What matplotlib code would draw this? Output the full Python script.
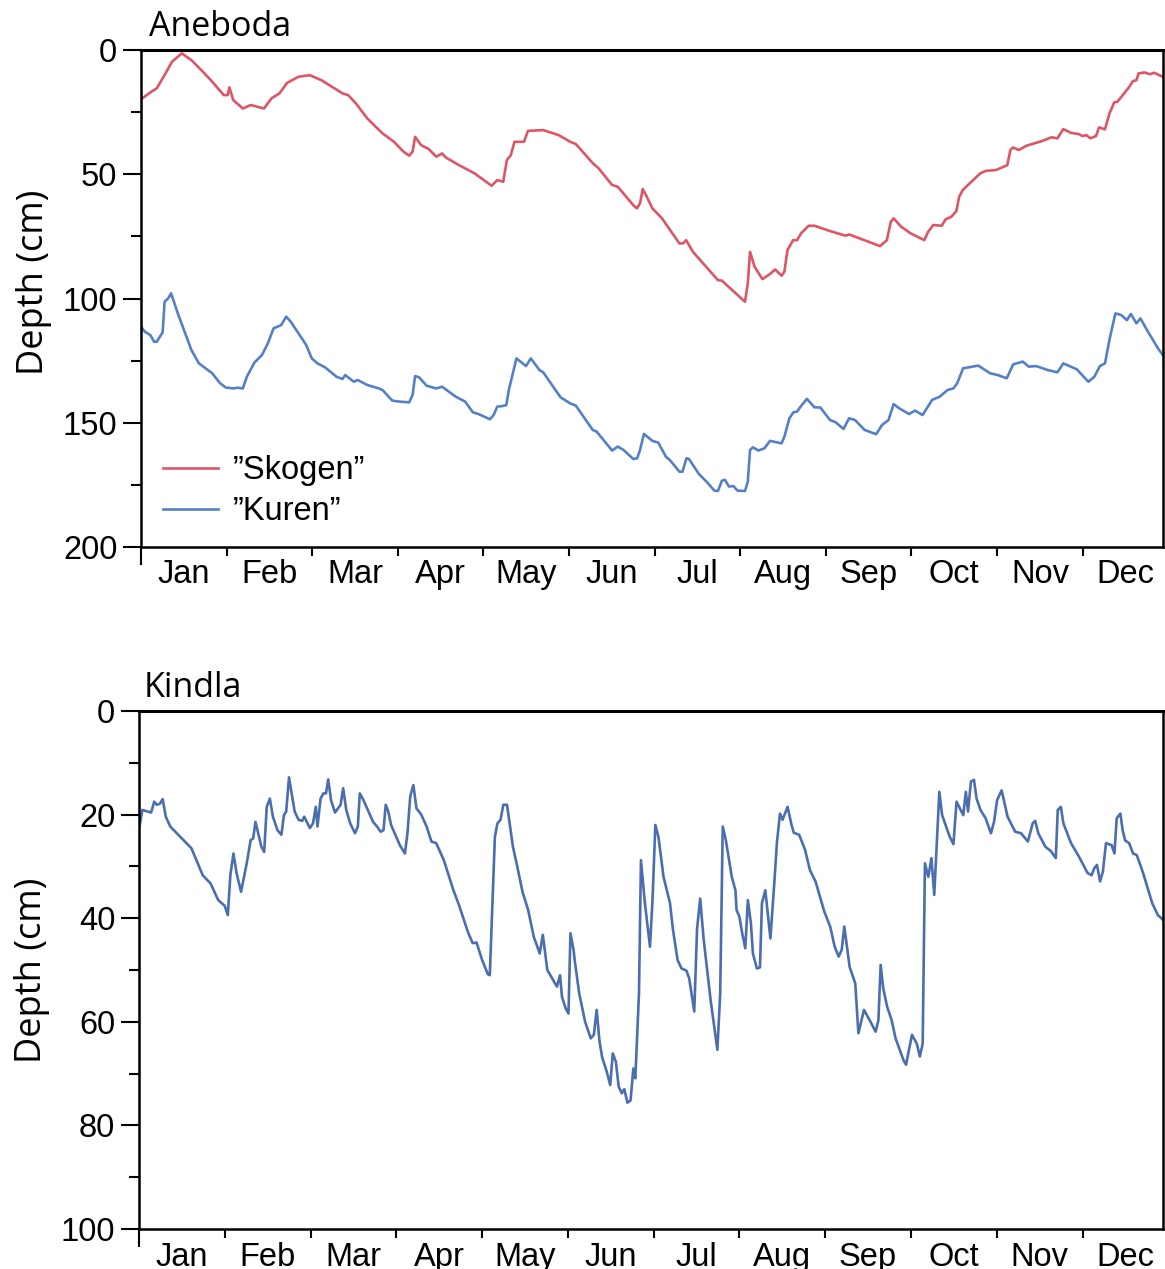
import matplotlib
matplotlib.use("Agg")
import matplotlib.pyplot as plt
from matplotlib.ticker import FixedLocator, NullFormatter, MultipleLocator

plt.rcParams['font.family'] = ['Liberation Sans', 'DejaVu Sans']

months = ["Jan", "Feb", "Mar", "Apr", "May", "Jun",
          "Jul", "Aug", "Sep", "Oct", "Nov", "Dec"]

# Aneboda "Skogen" (day of year, depth in cm)
skogen_day = [0, 3.6, 5.6, 8.4, 11, 14.5, 17.9, 22, 25.3, 29.4, 30.8, 31.4, 32.8, 36.2, 39,
              43.7, 46.4, 49.2, 51.9, 56, 60, 64.1, 68.2, 71.6, 73.6, 76.4, 80.4, 85.8, 89.9,
              93.3, 95.3, 96.5, 97.4, 99.5, 102.2, 104.9, 107, 108.3, 113, 118.5, 124.6, 126.6,
              128.7, 130, 131.4, 132.7, 136.1, 137.5, 142.9, 148.4, 152.5, 154.5, 160.6, 162.6,
              167.4, 169.4, 174.9, 176.2, 177.3, 178.3, 179.7, 181.7, 185.1, 191.3, 192.6, 193.7,
              196.1, 205, 206.4, 214.6, 215.6, 216.4, 218, 220.8, 223.5, 225.3, 227.6, 228.6,
              229.7, 231.7, 233.1, 234.5, 237.2, 239.3, 244.7, 250.3, 251.6, 262.6, 265, 266.4,
              267.4, 270.1, 273.5, 278.3, 279.7, 281.5, 284.5, 285.9, 287.9, 289.7, 290.7, 292,
              294.1, 298.2, 300.2, 303.7, 307.8, 308.9, 309.8, 311.9, 314.6, 320.1, 323.5, 325.6,
              327.7, 330.4, 333.2, 334.5, 335.9, 337.3, 339.3, 340.4, 342.5, 344.1, 345.8, 346.9,
              351, 352.4, 353.7, 354.4, 356.5, 358.5, 359.9, 363]
skogen_depth = [19.8, 16.8, 15.4, 10, 4.7, 1.3, 4, 8.7, 12.7, 18.1, 18.1, 15, 20.1, 23.5, 22.1,
                23.5, 19.4, 17.4, 13.2, 10.7, 10.1, 12.1, 15, 17.4, 18.1, 21.5, 27.5, 33.5, 36.9,
                40.9, 42.5, 40.9, 34.9, 38.2, 39.8, 42.9, 41.6, 43.2, 46.3, 49.6, 54.6, 52.3,
                53, 44.3, 42.3, 36.9, 36.9, 32.5, 32.2, 34.2, 36.9, 37.8, 45.6, 47.6,
                54.3, 55, 62.4, 63.7, 61.7, 55.9, 59, 63.7, 67.7, 77.8, 77.8, 76.5,
                81.2, 92.6, 92.8, 101.3, 93.9, 81.2, 87.2, 92.2, 90.1, 88.3, 90.8, 89.2,
                80.5, 76.5, 76.5, 73.8, 70.7, 70.7, 72.8, 74.7, 74.2, 78.9, 76.5, 69.1,
                67.7, 71.1, 73.8, 76.5, 73.1, 70.4, 70.7, 68.1, 67.1, 64.8, 59, 56.3,
                54, 49.6, 48.6, 48.3, 46.3, 40.2, 39.2, 40.2, 38.5, 36.6, 35.1, 35.5,
                31.8, 33.3, 33.8, 34.6, 34.2, 35.5, 34.6, 31.1, 31.9, 25.5, 21, 20.8,
                15, 12.5, 12.1, 9.4, 9, 9.7, 9.1, 10.7]

# Aneboda "Kuren"
kuren_day = [0, 1.3, 3.3, 4.7, 5.6, 7.7, 8.4, 9.7, 10.7, 13.1, 17.9, 20.6, 25.3, 28.1, 30.1,
             32.8, 34.2, 36.2, 37.6, 40.3, 43, 45.1, 47.1, 49.8, 51.6, 53.2, 58.7, 60.7, 62.7,
             65.4, 69.5, 71.6, 72.6, 75.6, 77, 80.4, 84.5, 85.8, 89.3, 91.9, 95.3, 96.5, 97.4,
             98.8, 101.5, 104.9, 107, 111.8, 115.2, 117.9, 119.9, 124, 125.3, 126.6, 128.3,
             129.8, 130.7, 133.4, 136.8, 138.5, 141.6, 142.9, 149.1, 152.5, 154.5, 160.5,
             161.9, 167.4, 169.4, 171.5, 174.9, 176.3, 177.3, 178.7, 181.7, 183.8, 186.5,
             187.9, 191.3, 192.4, 193.8, 194.7, 198.2, 200.9, 203.7, 205, 206.4, 207.5, 208.9,
             210.5, 211.9, 214.6, 215.6, 216.4, 217.4, 219.4, 221.5, 223.5, 227.6, 228.6,
             230.4, 231.8, 233.1, 234.5, 236.6, 239.3, 241.4, 244.8, 246.8, 249.6, 251.6,
             253.7, 257.1, 261.2, 263.3, 265.6, 267.4, 269.4, 272.9, 275, 277.7, 281.1, 283.8,
             286.6, 288.6, 290, 292.1, 297.5, 301.7, 304.4, 307.6, 309.9, 313.3, 315.4, 318.1,
             322.2, 325.6, 327.7, 332.5, 336.6, 338.7, 340.7, 342.5, 344.2, 346.2, 348.2,
             350.3, 351.7, 353.7, 355.1, 357.8, 361.3, 363]
kuren_depth = [111.3, 113.3, 114.7, 117.4, 117.4, 113.6, 101.3, 99.9, 97.9, 106, 120.7, 126.1,
               130.1, 134.1, 135.8, 136.2, 135.9, 136.2, 131.5, 125.8, 122.7, 118, 112, 110.7,
               107.3, 109.3, 118.7, 124.1, 126.1, 127.7, 131.5, 132.4, 130.8, 133.5, 132.8,
               134.8, 136.2, 136.8, 141.1, 141.5, 141.8, 138.8, 131.2, 131.7, 135.1, 136.2,
               135.5, 139.5, 141.5, 145.8, 146.5, 148.6, 146.9, 143.5, 143.3, 142.9, 136.8,
               124.1, 127.2, 124.1, 128.8, 129.7, 139.8, 142.2, 143.1, 152.9, 153.6, 161.2,
               159.6, 161, 164.6, 164.3, 161, 154.5, 157.3, 158, 163.7, 165, 169.7, 169.7,
               164.3, 164.6, 170.6, 173.7, 177.3, 177.5, 173.3, 173, 175.7, 175.5, 177.3,
               177.5, 173.7, 161, 159.9, 161.2, 160.3, 157.3, 158.3, 155.6, 148.2, 145.8,
               145.5, 143.3, 140.4, 143.8, 143.9, 148.9, 149.8, 152.5, 148.2, 148.9, 152.9,
               154.6, 150.9, 148.9, 142.5, 144.2, 146.5, 145.1, 146.9, 140.8, 139.5, 136.8,
               136.2, 134.1, 128.1, 127, 130.1, 130.8, 132.1, 126.5, 125.4, 127.4, 127.2,
               128.8, 129.7, 126.1, 128.5, 133.5, 131.5, 127.2, 126.1, 116, 106, 106.6, 108.7,
               106.2, 110, 108, 113.4, 120, 122.7]

# Kindla
kindla_day = [0.2, 1.2, 4.3, 5.4, 6.3, 7.4, 8.4, 9.5, 11.1, 18.6, 22.6, 25.4, 28.1, 30.4, 31.5,
              32.4, 33.5, 34.6, 36.2, 38.2, 39.6, 40.5, 41.3, 43.4, 44.4, 45.3, 46.4, 47.5, 49.1,
              50.5, 51.4, 52.2, 53.2, 55.2, 56.6, 57.9, 58.6, 60.6, 61.7, 62.7, 63.3, 64.4, 65.4,
              66.3, 67.1, 68.1, 69.5, 71.5, 72.4, 73.5, 74.9, 76.6, 77.6, 78.3, 79.6, 83, 84.4,
              85.7, 86.7, 87.5, 88.4, 89.4, 92.5, 94.3, 95.2, 96.2, 97.3, 98.4, 100, 102, 103.7,
              105.4, 108.1, 111.5, 113.5, 116.6, 118.3, 119.7, 121.7, 123.7, 124.4, 126.2, 127.1,
              128.2, 129.2, 130.5, 132.6, 133.9, 136, 138, 140, 142.1, 143.2, 144.8, 148.2, 149.3,
              150, 151.3, 152.3, 153, 154.1, 154.5, 156.1, 158.2, 160.2, 161.3, 162.3, 163.3,
              164.3, 165.7, 167.1, 168, 169.1, 170.1, 171.2, 172.1, 173.2, 174.3, 175.3, 176,
              177.3, 178, 179.4, 181.2, 182.1, 183.1, 184.2, 186, 188.3, 189.3, 191, 192.4, 194.1,
              195.1, 196.9, 197.9, 199, 200.2, 202.7, 205.1, 206.1, 207, 208.1, 210.2, 211.5,
              211.9, 212.9, 213.9, 215, 215.9, 217, 217.7, 219.1, 220.2, 220.9, 222.1, 223.9,
              225.2, 226.2, 227.3, 228.2, 230, 231.4, 232.2, 234.1, 236.2, 237.9, 239.9, 243,
              245.1, 246.7, 248.1, 249.2, 250.1, 252, 254, 255.1, 257.1, 259.4, 261.2, 262.2,
              263, 263.9, 265.3, 266.9, 268.3, 271.1, 272, 274.1, 275.8, 276.9, 277.9, 278.7,
              279.9, 281, 282, 283.8, 284.8, 287.5, 288.8, 289.9, 292.3, 293.2, 294, 295, 296.1,
              297, 298.4, 300.2, 302.1, 303.2, 304.3, 305.9, 308, 310.7, 312.8, 315.2, 316.9,
              317.8, 318.9, 321.4, 323.3, 325.1, 325.8, 326.9, 327.8, 330.5, 333.3, 336.4, 337.8,
              338.7, 339.7, 340.8, 341.8, 342.9, 344.9, 345.9, 346.7, 348, 348.8, 349.7, 351.1,
              352.5, 353.8, 355.9, 359.3, 361.3, 363.1]
kindla_depth = [22.2, 19.1, 19.6, 17.5, 18.1, 17.9, 17, 20.4, 22.3, 26.5, 31.7, 33.3, 36.5, 37.6,
                39.4, 31.7, 27.5, 31.3, 34.9, 29.4, 24.9, 24.6, 21.4, 26.2, 27.2, 18.5, 16.9,
                20.4, 23, 23.9, 20.1, 19.4, 12.8, 19.4, 21, 21.2, 20.4, 22.6, 21.7, 18.5, 22.3,
                16.9, 15.9, 15.9, 13.2, 17.2, 19.6, 18.1, 14.9, 19.1, 21.7, 23.6, 22.3, 15.9,
                17.2, 21.4, 22.3, 23.3, 23, 18.1, 19.4, 22, 25.9, 27.5, 23.6, 16.4, 14.3, 18.8,
                19.9, 22.3, 25.2, 25.5, 28.8, 34.6, 37.5, 42.6, 44.8, 44.7, 48.1, 50.8, 51,
                24.3, 21.7, 21, 18.1, 18.1, 26.2, 29.4, 34.9, 38.4, 43.6, 46.8, 43.2, 50, 53.2,
                51, 55.2, 57.4, 58.4, 42.9, 46.1, 48.1, 54.5, 60, 63.2, 62.5, 57.7, 63.8, 67,
                69.3, 72.2, 66.1, 67.7, 72.5, 73.8, 73, 75.6, 75.2, 69, 70.9, 54.5, 28.8, 37.1,
                45.5, 36.5, 22, 24.3, 32, 37.1, 42, 48.1, 49.7, 50.1, 51.6, 58, 42, 36.2, 43.9,
                55.8, 65.4, 54.5, 22.3, 24.9, 32, 34.6, 38.4, 39.7, 42.9, 45.8, 36.5, 41, 46.8,
                49.7, 49.5, 37.1, 34.6, 43.9, 33.9, 25.5, 19.8, 21, 18.5, 22, 23.5, 23.9, 26.8,
                30.7, 32.9, 38.7, 41.6, 45.5, 47.4, 46.1, 41.6, 49.4, 52.6, 62.2, 57.7, 60, 61.9,
                59.7, 49, 53.5, 57.1, 59.7, 63.2, 67.4, 68.3, 62.5, 64.2, 66.7, 64.2, 29.4, 32,
                28.4, 35.5, 15.6, 20.1, 24.3, 25.7, 17.5, 20.1, 15.6, 19.4, 13.6, 13.3, 16.9,
                19.1, 20.7, 23.6, 21.4, 17.2, 15.3, 20.4, 23.3, 23.6, 25.2, 21.7, 21.2, 23.6,
                26.2, 27, 28.4, 19.1, 18.5, 21.7, 25.5, 28.1, 31.3, 31.7, 30.4, 29.7, 32.9, 31,
                25.5, 25.9, 27.5, 20.7, 19.8, 23, 25, 25.5, 27.5, 27.8, 31, 37.1, 39.4, 40.3]

red = '#DD5567'
blue_top = '#5580C8'
blue_bot = '#4A6EB0'
title_font = ['Open Sans', 'DejaVu Sans']

month_len = 365 / 12
month_edges = [i * month_len for i in range(12)]
month_mids = [(i + 0.5) * month_len for i in range(12)]

fig = plt.figure(figsize=(11.65, 12.69), dpi=100)
ax1 = fig.add_axes([0.121, 0.569, 0.877, 0.3915])
ax2 = fig.add_axes([0.1193, 0.0315, 0.8787, 0.4082])


def style_axis(ax, ymax, major, minor):
    ax.set_xlim(0, 363)
    ax.set_ylim(ymax, 0)
    ax.yaxis.set_major_locator(MultipleLocator(major))
    ax.yaxis.set_minor_locator(MultipleLocator(minor))
    ax.xaxis.set_major_locator(FixedLocator(month_edges))
    ax.xaxis.set_major_formatter(NullFormatter())
    ax.xaxis.set_minor_locator(FixedLocator(month_mids))
    ax.set_xticklabels(months, minor=True)
    for s in ax.spines.values():
        s.set_linewidth(1.8)
    ax.spines['top'].set_linewidth(2.2)
    ax.tick_params(axis='y', which='major', direction='out', length=13, width=1.5,
                   labelsize=23.5, pad=4)
    ax.tick_params(axis='y', which='minor', direction='out', length=7, width=1.5)
    ax.tick_params(axis='x', which='major', direction='out', length=6.5, width=1.5)
    ax.tick_params(axis='x', which='minor', length=0, labelsize=23.5, pad=9)
    ax.xaxis.get_major_ticks()[0].tick1line.set_markersize(13)
    ax.set_ylabel('Depth (cm)', fontsize=26, family=title_font, labelpad=8)


ax1.plot(skogen_day, skogen_depth, color=red, lw=1.9, label='\u201dSkogen\u201d')
ax1.plot(kuren_day, kuren_depth, color=blue_top, lw=1.9, label='\u201dKuren\u201d')
style_axis(ax1, 200, 50, 25)
ax1.yaxis.set_label_coords(-0.087, 0.533)
ax1.text(0.008, 1.012, 'Aneboda', transform=ax1.transAxes, fontsize=24.5,
         family=title_font, ha='left', va='bottom')
ax1.legend(loc='lower left', bbox_to_anchor=(0.0215, 0.04), frameon=False, fontsize=23.5,
           handlelength=1.7, handletextpad=0.43, labelspacing=0.3,
           borderpad=0, borderaxespad=0)

ax2.plot(kindla_day, kindla_depth, color=blue_bot, lw=1.9)
style_axis(ax2, 100, 20, 10)
ax2.text(0.005, 1.012, 'Kindla', transform=ax2.transAxes, fontsize=24.5,
         family=title_font, ha='left', va='bottom')

fig.savefig('out.png', dpi=100)
